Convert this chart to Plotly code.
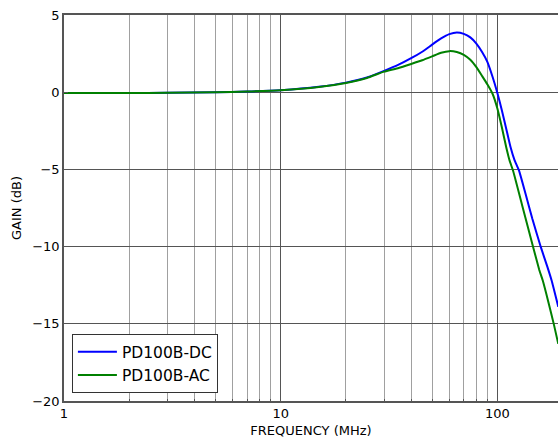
import plotly.graph_objects as go

freq_dc = [1, 2, 3, 5, 7, 10, 15, 20, 25, 30, 35, 40, 45, 50, 55, 60, 65, 70, 75, 80, 85, 90, 95, 100, 105, 110, 115, 120, 126, 135, 145, 159, 170, 178, 191]
gain_dc = [-0.05, -0.05, -0.04, -0.01, 0.04, 0.13, 0.35, 0.62, 0.95, 1.38, 1.78, 2.2, 2.62, 3.08, 3.48, 3.76, 3.87, 3.78, 3.55, 3.15, 2.6, 1.95, 1.0, -0.05, -1.2, -2.4, -3.55, -4.4, -5.1, -6.6, -8.2, -10.07, -11.3, -12.2, -13.9]

freq_ac = [1, 2, 3, 5, 7, 10, 15, 20, 25, 30, 35, 40, 45, 50, 55, 60, 65, 70, 75, 80, 85, 90, 95, 100, 105, 110, 114, 118, 130, 146.5, 156, 162, 172, 182.5, 191]
gain_ac = [-0.05, -0.05, -0.04, -0.01, 0.04, 0.12, 0.33, 0.6, 0.92, 1.33, 1.57, 1.83, 2.07, 2.32, 2.55, 2.66, 2.6, 2.42, 2.1, 1.62, 1.05, 0.5, -0.1, -1.05, -2.3, -3.6, -4.45, -5.06, -7.3, -10.07, -11.5, -12.2, -13.6, -15.07, -16.3]

x_major = [1, 10, 100]
x_minor = [2, 3, 4, 5, 6, 7, 8, 9, 20, 30, 40, 50, 60, 70, 80, 90, 200]
y_ticks = [-20, -15, -10, -5, 0, 5]

FONT = "DejaVu Sans"

fig = go.Figure()
fig.add_trace(go.Scatter(x=freq_dc, y=gain_dc, mode="lines", name="PD100B-DC",
                         line=dict(color="#0000ff", width=2, shape="spline", smoothing=0.4)))
fig.add_trace(go.Scatter(x=freq_ac, y=gain_ac, mode="lines", name="PD100B-AC",
                         line=dict(color="#008000", width=2, shape="spline", smoothing=0.4)))

fig.update_layout(
    width=558, height=442,
    margin=dict(l=64, r=0, t=15, b=41),
    paper_bgcolor="white", plot_bgcolor="white",
    font=dict(family=FONT, size=13, color="black"),
    showlegend=True,
    legend=dict(x=0.016, y=0.02, xanchor="left", yanchor="bottom",
                bgcolor="white", bordercolor="#333333", borderwidth=1,
                itemwidth=39,
                font=dict(family=FONT, size=15.5, color="black")),
    xaxis=dict(type="log", range=[0, 2.2798],
               tickvals=x_major, ticktext=[str(v) for v in x_major],
               showgrid=True, gridcolor="#555555", gridwidth=1,
               minor=dict(tickvals=x_minor, showgrid=True, gridcolor="#a0a0a0", gridwidth=1,
                          ticks="inside", ticklen=2, tickcolor="#555555"),
               showline=True, linecolor="#555555", linewidth=1.5, mirror=True,
               ticks="inside", ticklen=4, tickcolor="#555555",
               zeroline=False,
               title=dict(text="FREQUENCY (MHz)", standoff=6, font=dict(family=FONT, size=13))),
    yaxis=dict(range=[-20, 5], tickvals=y_ticks,
               ticktext=[("\u2212" + str(abs(v))) if v < 0 else str(v) for v in y_ticks],
               showgrid=True, gridcolor="#555555", gridwidth=1,
               showline=True, linecolor="#555555", linewidth=1.5, mirror=False,
               ticks="inside", ticklen=4, tickcolor="#555555",
               zeroline=False,
               title=dict(text="GAIN (dB)", standoff=8, font=dict(family=FONT, size=13))),
)

# remove the browser's default body margin so the 558x442 figure fills the window exactly
fig.write_html("out.html",
               config={"displayModeBar": False},
               post_script="document.body.style.margin='0';document.body.style.overflow='hidden';")
